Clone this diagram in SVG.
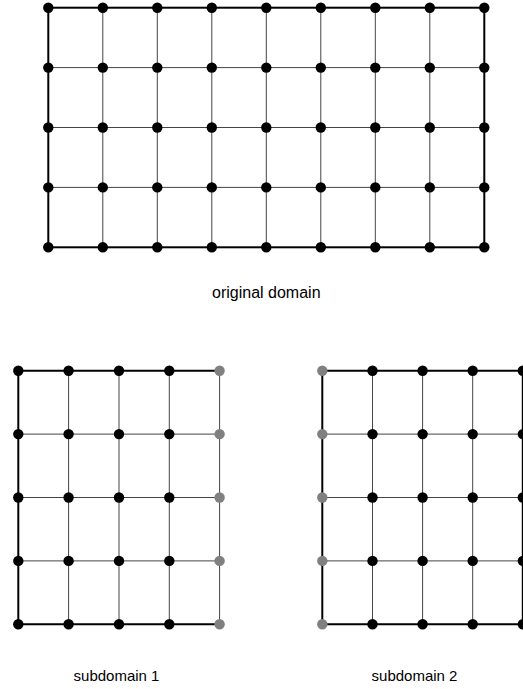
<svg xmlns="http://www.w3.org/2000/svg" width="523" height="689" viewBox="0 0 523 689">
<style>
.thin{stroke:#444;stroke-width:1;fill:none}
.thick{stroke:#000;stroke-width:2;fill:none}
.n{fill:#000}
.g{fill:#808080}
text{font-family:"Liberation Sans",Arial,sans-serif;font-size:16px;fill:#000;text-anchor:middle}
text.sub{font-size:15px}
</style>
<defs>
<circle id="d" r="5.2"/>
</defs>
<rect width="523" height="689" fill="#fff"/>
<g id="connectors">
<path class="thin" d="M102.8 7.7V247.3M157.3 7.7V247.3M211.8 7.7V247.3M266.3 7.7V247.3M320.8 7.7V247.3M375.3 7.7V247.3M429.8 7.7V247.3M48.3 67.6H484.3M48.3 127.5H484.3M48.3 187.4H484.3"/>
<rect class="thick" x="48.3" y="7.7" width="436" height="239.6"/>
<path class="thin" d="M68.6 370.7V624.3M119 370.7V624.3M169.3 370.7V624.3M219.6 370.7V624.3M18.3 434.1H219.6M18.3 497.5H219.6M18.3 560.9H219.6"/>
<path class="thick" d="M219.6 370.7H18.3V624.3H219.6"/>
<path class="thin" d="M372.5 370.7V624.3M422.6 370.7V624.3M472.7 370.7V624.3M322.3 434.1H522.8M322.3 497.5H522.8M322.3 560.9H522.8"/>
<path class="thick" d="M322.3 370.7V624.3M322.3 370.7H522.8V624.3H322.3"/>
</g>
<g id="original-domain">
<g class="n">
<use href="#d" x="48.3" y="7.7"/><use href="#d" x="102.8" y="7.7"/><use href="#d" x="157.3" y="7.7"/><use href="#d" x="211.8" y="7.7"/><use href="#d" x="266.3" y="7.7"/><use href="#d" x="320.8" y="7.7"/><use href="#d" x="375.3" y="7.7"/><use href="#d" x="429.8" y="7.7"/><use href="#d" x="484.3" y="7.7"/>
<use href="#d" x="48.3" y="67.6"/><use href="#d" x="102.8" y="67.6"/><use href="#d" x="157.3" y="67.6"/><use href="#d" x="211.8" y="67.6"/><use href="#d" x="266.3" y="67.6"/><use href="#d" x="320.8" y="67.6"/><use href="#d" x="375.3" y="67.6"/><use href="#d" x="429.8" y="67.6"/><use href="#d" x="484.3" y="67.6"/>
<use href="#d" x="48.3" y="127.5"/><use href="#d" x="102.8" y="127.5"/><use href="#d" x="157.3" y="127.5"/><use href="#d" x="211.8" y="127.5"/><use href="#d" x="266.3" y="127.5"/><use href="#d" x="320.8" y="127.5"/><use href="#d" x="375.3" y="127.5"/><use href="#d" x="429.8" y="127.5"/><use href="#d" x="484.3" y="127.5"/>
<use href="#d" x="48.3" y="187.4"/><use href="#d" x="102.8" y="187.4"/><use href="#d" x="157.3" y="187.4"/><use href="#d" x="211.8" y="187.4"/><use href="#d" x="266.3" y="187.4"/><use href="#d" x="320.8" y="187.4"/><use href="#d" x="375.3" y="187.4"/><use href="#d" x="429.8" y="187.4"/><use href="#d" x="484.3" y="187.4"/>
<use href="#d" x="48.3" y="247.3"/><use href="#d" x="102.8" y="247.3"/><use href="#d" x="157.3" y="247.3"/><use href="#d" x="211.8" y="247.3"/><use href="#d" x="266.3" y="247.3"/><use href="#d" x="320.8" y="247.3"/><use href="#d" x="375.3" y="247.3"/><use href="#d" x="429.8" y="247.3"/><use href="#d" x="484.3" y="247.3"/>
</g>
<text x="266.3" y="298">original domain</text>
</g>
<g id="subdomain-1">
<g class="n">
<use href="#d" x="18.3" y="370.7"/><use href="#d" x="68.6" y="370.7"/><use href="#d" x="119" y="370.7"/><use href="#d" x="169.3" y="370.7"/>
<use href="#d" x="18.3" y="434.1"/><use href="#d" x="68.6" y="434.1"/><use href="#d" x="119" y="434.1"/><use href="#d" x="169.3" y="434.1"/>
<use href="#d" x="18.3" y="497.5"/><use href="#d" x="68.6" y="497.5"/><use href="#d" x="119" y="497.5"/><use href="#d" x="169.3" y="497.5"/>
<use href="#d" x="18.3" y="560.9"/><use href="#d" x="68.6" y="560.9"/><use href="#d" x="119" y="560.9"/><use href="#d" x="169.3" y="560.9"/>
<use href="#d" x="18.3" y="624.3"/><use href="#d" x="68.6" y="624.3"/><use href="#d" x="119" y="624.3"/><use href="#d" x="169.3" y="624.3"/>
</g>
<g class="g">
<use href="#d" x="219.6" y="370.7"/><use href="#d" x="219.6" y="434.1"/><use href="#d" x="219.6" y="497.5"/><use href="#d" x="219.6" y="560.9"/><use href="#d" x="219.6" y="624.3"/>
</g>
<text class="sub" x="116.5" y="681">subdomain 1</text>
</g>
<g id="subdomain-2">
<g class="g">
<use href="#d" x="322.3" y="370.7"/><use href="#d" x="322.3" y="434.1"/><use href="#d" x="322.3" y="497.5"/><use href="#d" x="322.3" y="560.9"/><use href="#d" x="322.3" y="624.3"/>
</g>
<g class="n">
<use href="#d" x="372.5" y="370.7"/><use href="#d" x="422.6" y="370.7"/><use href="#d" x="472.7" y="370.7"/><use href="#d" x="522.8" y="370.7"/>
<use href="#d" x="372.5" y="434.1"/><use href="#d" x="422.6" y="434.1"/><use href="#d" x="472.7" y="434.1"/><use href="#d" x="522.8" y="434.1"/>
<use href="#d" x="372.5" y="497.5"/><use href="#d" x="422.6" y="497.5"/><use href="#d" x="472.7" y="497.5"/><use href="#d" x="522.8" y="497.5"/>
<use href="#d" x="372.5" y="560.9"/><use href="#d" x="422.6" y="560.9"/><use href="#d" x="472.7" y="560.9"/><use href="#d" x="522.8" y="560.9"/>
<use href="#d" x="372.5" y="624.3"/><use href="#d" x="422.6" y="624.3"/><use href="#d" x="472.7" y="624.3"/><use href="#d" x="522.8" y="624.3"/>
</g>
<text class="sub" x="414.5" y="681">subdomain 2</text>
</g>
</svg>
